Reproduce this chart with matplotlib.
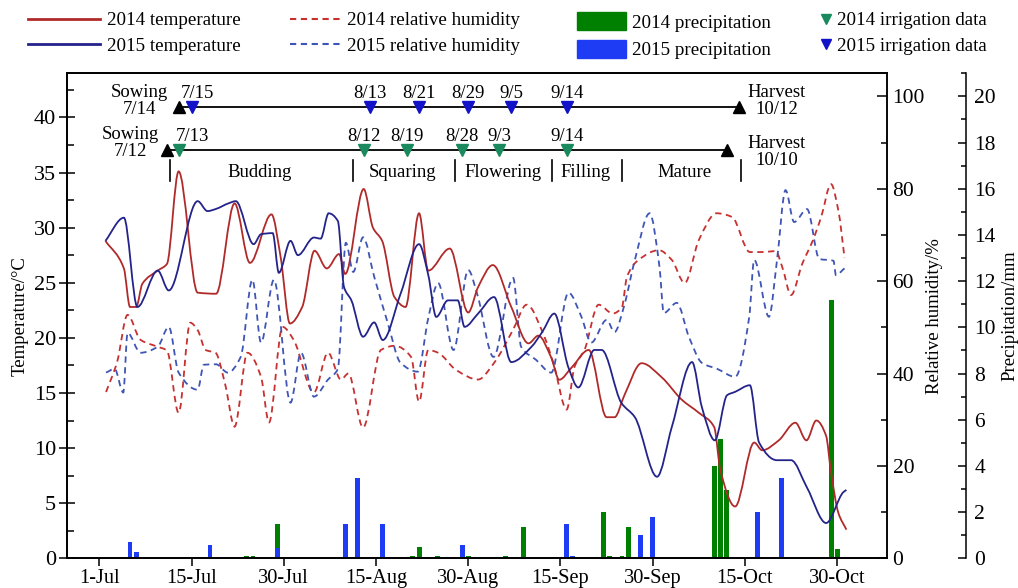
import matplotlib
matplotlib.use('Agg')
import matplotlib.pyplot as plt
from matplotlib.lines import Line2D
from matplotlib.patches import Patch, PathPatch
from matplotlib.path import Path
from matplotlib.ticker import MultipleLocator

plt.rcParams['font.family'] = ['Liberation Serif', 'DejaVu Serif']
plt.rcParams['font.size'] = 13

# ---------------- data (x = day number, 1-Jul = 1) ----------------
tick_pos = [0, 15, 30, 45, 60, 75, 90, 105, 120]
tick_labels = ['1-Jul', '15-Jul', '30-Jul', '15-Aug', '30-Aug', '15-Sep', '30-Sep', '15-Oct', '30-Oct']

t14_x = [1, 4, 5, 6, 7, 9.5, 11, 12.9, 16, 19, 22, 24.5, 28, 29.5, 31, 33, 35, 37, 39, 40,
         43, 44.5, 46, 48, 49.8, 52, 53.5, 57, 60, 61.6, 64, 67, 69.8, 71.4, 73.5, 74.8, 76.8,
         79.6, 82.5, 83.8, 85.4, 88.2, 91.5, 94.7, 97.5, 100, 101, 103.4, 106.5, 107.8, 110.5,
         113.2, 115, 116.6, 118.2, 119, 120.2, 121.5]
t14_v = [28.8, 26.3, 22.8, 22.8, 24.9, 26.1, 26.7, 35.1, 24.1, 24.0, 32.2, 26.8, 31.2, 27.3, 21.3,
         22.8, 27.9, 26.3, 27.6, 25.8, 33.5, 30.0, 28.8, 23.7, 22.8, 31.3, 26.1, 28.1, 22.3, 24.6,
         26.6, 22.8, 19.5, 20.2, 18.2, 16.2, 17.3, 18.9, 12.8, 12.8, 14.8, 17.7, 16.4, 14.4, 13.2,
         11.9, 8.0, 4.7, 10.5, 9.8, 10.7, 12.3, 10.7, 12.5, 11.1, 7.8, 4.1, 2.6]

t15_x = [1, 4, 6.2, 9.5, 11.3, 16, 17.6, 19, 21, 22.2, 25.1, 26.3, 28.2, 29.2, 31.1, 32.3, 34.9,
         36, 37.3, 38.8, 39.8, 41, 42.9, 44.7, 46.1, 49, 52, 53.5, 54.8, 56.7, 58.3, 59.4, 61.6,
         64.2, 67, 70.3, 72, 74, 76.3, 77.9, 80.5, 81.7, 84.9, 87.1, 90.7, 93.1, 96.4, 98, 100.1,
         102.1, 103.4, 105.8, 107.3, 110.2, 112.5, 115.1, 118.2, 121, 121.5]
t15_v = [28.8, 30.9, 22.8, 26.1, 24.3, 32.4, 31.5, 31.7, 32.2, 32.4, 28.5, 29.4, 29.5, 25.9, 28.8,
         27.5, 29.1, 29.0, 31.3, 30.6, 24.6, 23.4, 20.1, 21.4, 19.8, 24.0, 28.5, 25.7, 21.9, 23.4,
         23.4, 21.0, 22.2, 23.7, 17.8, 19.2, 20.5, 22.2, 17.3, 15.5, 18.9, 18.9, 14.1, 12.8, 7.4,
         11.9, 17.8, 13.7, 10.7, 14.8, 15.1, 15.7, 10.5, 8.9, 8.9, 6.4, 3.2, 6.0, 6.2]

rh14_x = [1.1, 2.9, 4.6, 6.7, 9.5, 11, 12.9, 14.8, 16, 17.3, 18.9, 20.5, 22, 24.1, 26.3, 27.6,
          29.8, 31.6, 34.9, 37.2, 39.3, 40.5, 42.9, 45.8, 48, 50.7, 52, 53.5, 55.1, 58, 61.6,
          64.2, 67.3, 69.5, 72.4, 74, 76, 77.3, 78.9, 81.2, 83.5, 85, 85.8, 87.7, 91, 93.1, 95.2,
          97.5, 100.4, 102.9, 105.8, 107.8, 110, 111.1, 112.5, 114.3, 116, 117.4, 119, 120.2, 121.2]
rh14_v = [36, 42.5, 52.7, 47.3, 45.8, 45, 31.5, 51, 49.4, 45.1, 44.5, 37.5, 28.5, 44.5, 39.3, 29.4,
          50.1, 47.3, 35.9, 44.5, 38.7, 40, 28.3, 45.1, 46, 43.6, 33.9, 45.1, 44.5, 40.8, 38.7,
          42.3, 49.5, 54.9, 47.9, 41.5, 32.2, 41.5, 45.1, 54.9, 53, 54.4, 60.9, 64.6, 66.7, 64.6,
          59.6, 68.9, 74.7, 73.9, 66.3, 66.3, 66.5, 62.9, 57, 63.7, 68.7, 73.9, 81, 75.2, 65]

rh15_x = [1.1, 2.5, 3.9, 4.6, 6.7, 9.5, 11.3, 12.9, 16, 17, 19, 20.9, 23, 24.9, 26.3, 28.4, 31.1,
          32.8, 34.9, 37.2, 38.8, 40.1, 41.3, 42.9, 44.7, 46.9, 49, 51.8, 53.5, 55.1, 57.6, 60,
          61.5, 64.1, 67.3, 68.6, 71, 73.5, 76.3, 78.4, 80, 82.5, 83.8, 85.3, 87.1, 89.5, 91.1,
          91.8, 93.9, 95.9, 98, 100.5, 103.4, 105.7, 106.5, 108.9, 110.2, 111.6, 113, 115.1,
          117.1, 119.4, 119.8, 121.2]
rh15_v = [40.2, 41, 35.9, 48.8, 44.5, 45.8, 50.1, 40.2, 36.5, 41.9, 42, 40.2, 43.6, 60.3, 46.7,
          60.3, 33.7, 44.5, 35, 38.7, 41, 68.3, 62, 69.5, 61, 51, 42.3, 40.4, 52, 59.6, 45.1, 62.4,
          57, 43.6, 60.7, 45.8, 43, 40.2, 57.5, 52.3, 46.7, 51.6, 49, 54.4, 64.6, 74.7, 63.1, 53.1,
          55.3, 47.9, 42.3, 41, 39.3, 52.3, 64.6, 52.3, 64.4, 79.7, 72.8, 75.6, 64.8, 64.4, 61.3, 62.8]

p14_x = [24, 25, 29, 51, 52, 55, 60, 66, 69, 82, 83, 85, 86, 100, 101, 102, 119, 120]
p14_v = [0.1, 0.1, 1.47, 0.1, 0.48, 0.1, 0.1, 0.1, 1.37, 1.99, 0.1, 0.1, 1.37, 4.0, 5.16, 2.96, 11.2, 0.39]
p15_x = [5, 6, 18, 29, 40, 42, 46, 59, 76, 77, 88, 90, 107, 111]
p15_v = [0.69, 0.26, 0.58, 0.43, 1.47, 3.49, 1.47, 0.58, 1.47, 0.1, 1.01, 1.77, 1.99, 3.46]

irr14_x = [13, 43, 50, 59, 65, 76]
irr14_lab = ['7/13', '8/12', '8/19', '8/28', '9/3', '9/14']
irr15_x = [15, 44, 52, 60, 67, 76]
irr15_lab = ['7/15', '8/13', '8/21', '8/29', '9/5', '9/14']
sow14, harv14 = 12, 102
sow15, harv15 = 14, 104
stages = ['Budding', 'Squaring', 'Flowering', 'Filling', 'Mature']
stage_bounds = [11.5, 41.3, 57.8, 73.6, 85.0, 104.3]
stage_centers = [26.1, 49.4, 65.7, 79.0, 95.2]

# ---------------- styles ----------------
c_t14 = '#b02a2a'
c_t15 = '#23238a'
c_rh14 = '#c83030'
c_rh15 = '#3f55b5'
c_p14 = '#008000'
c_p15 = '#1f3cf5'
c_i14 = '#1a8a5e'
c_i15 = '#1212c8'
dash = (0, (3.5, 2.5))


def smooth_line(ax, xs, ys, **kw):
    """Draw a smooth (monotone cubic Bezier) curve through the given points."""
    n = len(xs)
    d = [(ys[i + 1] - ys[i]) / (xs[i + 1] - xs[i]) for i in range(n - 1)]
    m = [0.0] * n
    m[0], m[-1] = d[0], d[-1]
    for i in range(1, n - 1):
        if d[i - 1] * d[i] <= 0:
            m[i] = 0.0
        else:
            h0 = xs[i] - xs[i - 1]
            h1 = xs[i + 1] - xs[i]
            w1, w2 = 2 * h1 + h0, h1 + 2 * h0
            m[i] = (w1 + w2) / (w1 / d[i - 1] + w2 / d[i])
    verts = [(xs[0], ys[0])]
    codes = [Path.MOVETO]
    for i in range(n - 1):
        h = xs[i + 1] - xs[i]
        verts += [(xs[i] + h / 3, ys[i] + m[i] * h / 3),
                  (xs[i + 1] - h / 3, ys[i + 1] - m[i + 1] * h / 3),
                  (xs[i + 1], ys[i + 1])]
        codes += [Path.CURVE4] * 3
    ax.add_patch(PathPatch(Path(verts, codes), fill=False, **kw))


W, H = 1018, 588
fig = plt.figure(figsize=(W / 100, H / 100), dpi=100)
L, R, T, B = 67, 887, 73.3, 558.3
ax = fig.add_axes([L / W, 1 - B / H, (R - L) / W, (B - T) / H])
ax2 = ax.twinx()
ax3 = ax.twinx()
ax3.spines['right'].set_position(('outward', 79 * 0.72))
ax3.set_zorder(1)
ax2.set_zorder(2)
ax.set_zorder(3)
ax.patch.set_visible(False)
ax2.patch.set_visible(False)
for a in (ax, ax2, ax3):
    for s in a.spines.values():
        s.set_linewidth(1.1)

# bars
ax3.bar(p14_x, p14_v, width=0.8, color=c_p14, linewidth=0)
ax3.bar(p15_x, p15_v, width=0.8, color=c_p15, linewidth=0)

# humidity
smooth_line(ax2, rh14_x, rh14_v, edgecolor=c_rh14, lw=1.3, linestyle=dash)
smooth_line(ax2, rh15_x, rh15_v, edgecolor=c_rh15, lw=1.3, linestyle=dash)

# temperature
smooth_line(ax, t14_x, t14_v, edgecolor=c_t14, lw=1.3)
smooth_line(ax, t15_x, t15_v, edgecolor=c_t15, lw=1.3)

# crop-stage timelines
y15, y14 = 40.9, 37.0
ax.plot([sow15 - 1, harv15], [y15, y15], color='k', lw=1.3, zorder=4)
ax.plot([sow14 - 1, harv14], [y14, y14], color='k', lw=1.3, zorder=4)
ax.plot([sow15 - 1, harv15], [y15, y15], ls='none', marker='^', color='k', ms=8, zorder=5)
ax.plot([sow14 - 1, harv14], [y14, y14], ls='none', marker='^', color='k', ms=8, zorder=5)
ax.plot(irr15_x, [y15] * len(irr15_x), ls='none', marker='v', color=c_i15, ms=8, zorder=6)
ax.plot(irr14_x, [y14] * len(irr14_x), ls='none', marker='v', color=c_i14, ms=8, zorder=6)
for i, (x, s) in enumerate(zip(irr15_x, irr15_lab)):
    ax.text(x + (0.9 if i == 0 else 0), 42.2, s, ha='center', va='center', fontsize=13.5)
for i, (x, s) in enumerate(zip(irr14_x, irr14_lab)):
    ax.text(x + (2.1 if i == 0 else 0), 38.3, s, ha='center', va='center', fontsize=13.5)
ax.text(6.6, 41.5, 'Sowing\n7/14', ha='center', va='center', fontsize=13.5, linespacing=1.0)
ax.text(5.0, 37.7, 'Sowing\n7/12', ha='center', va='center', fontsize=13.5, linespacing=1.0)
ax.text(110.1, 41.5, 'Harvest\n10/12', ha='center', va='center', fontsize=13.5, linespacing=1.0)
ax.text(110.1, 36.9, 'Harvest\n10/10', ha='center', va='center', fontsize=13.5, linespacing=1.0)
for xb in stage_bounds:
    ax.plot([xb, xb], [34.2, 36.1], color='k', lw=1.2)
for xc, s in zip(stage_centers, stages):
    ax.text(xc, 35.0, s, ha='center', va='center', fontsize=13.5)

# axes & ticks
ax.set_xlim(-5.25, 128.1)
ax.set_xticks(tick_pos)
ax.set_xticklabels(tick_labels)
ax.set_ylim(0, 44)
ax.set_yticks(range(0, 41, 5))
ax.yaxis.set_minor_locator(MultipleLocator(2.5))
ax.tick_params(axis='y', which='major', direction='inout', length=11, width=1.1, labelsize=16, pad=2.5)
ax.tick_params(axis='y', which='minor', direction='in', length=5, width=1.1)
ax.tick_params(axis='x', which='major', direction='out', length=5.5, width=1.1, labelsize=14.7, pad=2)
ax.set_ylabel('Temperature/°C', fontsize=13.5)
ax.yaxis.set_label_coords(-0.0463, 0.5)

ax2.set_ylim(0, 105)
ax2.set_yticks(range(0, 101, 20))
ax2.yaxis.set_minor_locator(MultipleLocator(10))
ax2.tick_params(axis='y', which='major', direction='in', length=7, width=1.1, labelsize=15.5, pad=4)
ax2.tick_params(axis='y', which='minor', direction='in', length=4, width=1.1)
ax2.set_ylabel('Relative humidity/%', fontsize=13.5)
ax2.yaxis.set_label_coords(1.0476, 0.5)

ax3.set_ylim(0, 21)
ax3.set_yticks(range(0, 21, 2))
ax3.yaxis.set_minor_locator(MultipleLocator(1))
ax3.tick_params(axis='y', which='major', direction='in', length=6, width=1.1, labelsize=15.5, pad=6)
ax3.tick_params(axis='y', which='minor', direction='in', length=3.5, width=1.1)
ax3.set_ylabel('Precipitation/mm', fontsize=13.5)
ax3.yaxis.set_label_coords(1.139, 0.5)

# legends (four columns)
top = 1 - 12 / H
common = dict(loc='upper left', frameon=False, fontsize=13.7, borderpad=0,
              borderaxespad=0, labelspacing=0.42)
fig.legend([Line2D([], [], color=c_t14, lw=2), Line2D([], [], color=c_t15, lw=2)],
           ['2014 temperature', '2015 temperature'], bbox_to_anchor=(28 / W, top),
           handlelength=3.8, handletextpad=0.37, **common)
fig.legend([Line2D([], [], color=c_rh14, lw=1.5, ls=(0, (3, 2.2))),
            Line2D([], [], color=c_rh15, lw=1.5, ls=(0, (3, 2.2)))],
           ['2014 relative humidity', '2015 relative humidity'], bbox_to_anchor=(290 / W, top),
           handlelength=2.75, handletextpad=0.27, **common)
fig.legend([Patch(color=c_p14), Patch(color=c_p15)],
           ['2014 precipitation', '2015 precipitation'], bbox_to_anchor=(577 / W, top),
           handlelength=2.6, handleheight=1.1, handletextpad=0.31, **common)
fig.legend([Line2D([], [], ls='none', marker='v', color=c_i14, ms=7),
            Line2D([], [], ls='none', marker='v', color=c_i15, ms=7)],
           ['2014 irrigation data', '2015 irrigation data'], bbox_to_anchor=(820 / W, top),
           handlelength=0.6, handletextpad=0.28, **common)

fig.savefig('out.png', dpi=100)
